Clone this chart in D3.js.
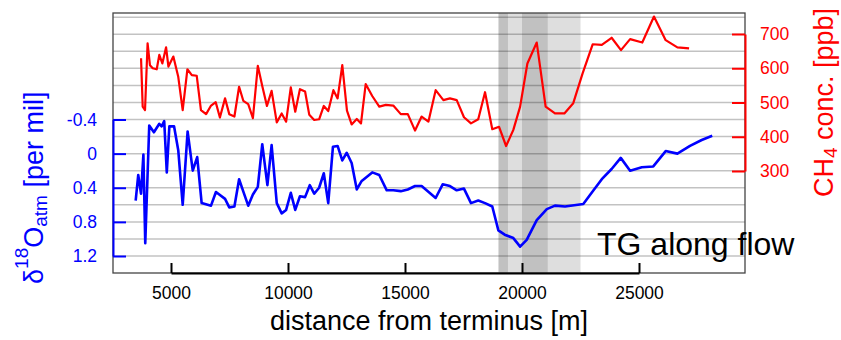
<!DOCTYPE html>
<html>
<head>
<meta charset="utf-8">
<script src="https://cdnjs.cloudflare.com/ajax/libs/d3/7.8.5/d3.min.js"></script>
<style>
  body { margin: 0; background: #fff; }
  svg { font-family: "Liberation Sans", Arial, sans-serif; }
</style>
</head>
<body>
<svg id="chart" width="841" height="340"></svg>
<script>
// CH4 record along flow
var ch4Dist = [3720,3790,3890,4000,4100,4220,4390,4500,4630,4790,4890,5100,5310,5500,5700,5890,6100,6280,6500,6700,
  6910,7090,7310,7490,7710,7910,8090,8300,8500,8710,8900,9100,9300,9520,9730,9920,10120,10310,10510,10730,
  10910,11120,11330,11530,11720,11940,12120,12320,12520,12720,12940,13120,13320,13600,13900,14180,14500,14820,15120,15430,
  15710,16000,16310,16640,16920,17210,17520,17820,18130,18420,18730,19020,19320,19630,19920,20230,20630,21010,21410,21810,
  22190,22590,23020,23410,23830,24230,24620,25140,25640,26140,26640,27140];
var ch4Vals = [629,488,478,673,609,600,597,639,614,661,605,634,575,478,597,580,578,478,466,490,
  501,456,512,466,459,546,505,495,454,607,548,490,534,442,468,444,544,473,539,532,
  464,449,451,490,475,536,512,609,476,436,452,439,554,519,488,493,491,466,466,418,
  459,444,536,507,512,507,457,439,451,530,422,429,373,420,488,614,675,488,468,468,
  498,585,670,668,689,653,685,675,751,682,661,658];

// d18O atm record along flow
var d18Dist = [3490,3600,3720,3820,3900,4070,4270,4500,4600,4710,4820,4930,5130,5310,5500,5710,5930,6120,6310,6710,
  6920,7310,7490,7710,7910,8110,8300,8500,8710,8900,9120,9300,9520,9730,9920,10120,10310,10510,10730,10930,
  11120,11330,11530,11720,11920,12120,12320,12510,12720,12940,13150,13600,13900,14220,14500,14820,15120,15430,15710,16310,
  16610,16920,17210,17520,17820,18130,18420,18730,18990,19260,19630,19920,20200,20630,21060,21410,21840,22620,23000,23410,
  23830,24220,24620,25120,25610,26140,26640,27180,27680,28130];
var d18Vals = [0.55,0.25,0.47,0.01,1.05,-0.33,-0.25,-0.35,-0.32,-0.38,0.22,-0.32,-0.32,-0.04,0.60,-0.26,0.20,0.04,0.58,0.61,
  0.45,0.53,0.63,0.62,0.30,0.46,0.61,0.48,0.39,-0.11,0.37,-0.10,0.58,0.70,0.66,0.46,0.66,0.50,0.51,0.37,
  0.47,0.40,0.23,0.58,-0.08,-0.09,0.08,-0.01,0.11,0.42,0.32,0.22,0.25,0.43,0.43,0.44,0.42,0.38,0.38,0.52,
  0.36,0.38,0.43,0.41,0.58,0.55,0.58,0.62,0.90,0.95,0.99,1.09,1.01,0.78,0.65,0.61,0.62,0.59,0.45,0.30,
  0.18,0.05,0.20,0.16,0.15,-0.03,0.00,-0.09,-0.16,-0.21];

var xTicks = [5000, 10000, 15000, 20000, 25000];
var d18Ticks = [-0.4, 0, 0.4, 0.8, 1.2];
var d18TickLabels = ["-0.4", "0", "0.4", "0.8", "1.2"];
var ch4Ticks = [300, 400, 500, 600, 700];
var gridVals = [-1.6,-1.4,-1.2,-1.0,-0.8,-0.6,-0.4,-0.2,0,0.2,0.4,0.6,0.8,1.0,1.2];
var lightBands = [[19000, 22500]];
var darkBands = [[19000, 19400], [20000, 21100]];

var svg = d3.select("#chart");
var plotLeft = 113, plotRight = 745, plotTop = 13, plotBottom = 273;

// x: 5000 -> 171px, 25000 -> 639px
var x = d3.scaleLinear().domain([5000, 25000]).range([171, 639]);
var yL = d3.scaleLinear().domain([-0.4, 1.2]).range([119.5, 256]);
var yR = d3.scaleLinear().domain([300, 700]).range([171, 34]);

// shaded bands
svg.append("g").selectAll("rect")
  .data(lightBands)
  .enter().append("rect")
    .attr("x", function(d) { return x(d[0]); })
    .attr("width", function(d) { return x(d[1]) - x(d[0]); })
    .attr("y", plotTop)
    .attr("height", plotBottom - plotTop)
    .attr("fill", "#dedede");

svg.append("g").selectAll("rect")
  .data(darkBands)
  .enter().append("rect")
    .attr("x", function(d) { return x(d[0]); })
    .attr("width", function(d) { return x(d[1]) - x(d[0]); })
    .attr("y", plotTop)
    .attr("height", plotBottom - plotTop)
    .attr("fill", "#c1c1c1");

// horizontal grid
svg.append("g").selectAll("line")
  .data(gridVals)
  .enter().append("line")
    .attr("x1", plotLeft).attr("x2", plotRight)
    .attr("y1", function(d) { return yL(d); })
    .attr("y2", function(d) { return yL(d); })
    .attr("stroke", "#000")
    .attr("stroke-opacity", 0.24)
    .attr("stroke-width", 1.5);

// lines
var ch4Line = d3.line()
  .x(function(d, i) { return x(ch4Dist[i]); })
  .y(function(d) { return yR(d); });

var d18Line = d3.line()
  .x(function(d, i) { return x(d18Dist[i]); })
  .y(function(d) { return yL(d); });

svg.append("path")
  .datum(ch4Vals)
  .attr("d", ch4Line)
  .attr("fill", "none")
  .attr("stroke", "#ff0000")
  .attr("stroke-width", 2.2)
  .attr("stroke-linejoin", "round");

svg.append("path")
  .datum(d18Vals)
  .attr("d", d18Line)
  .attr("fill", "none")
  .attr("stroke", "#0000ff")
  .attr("stroke-width", 2.6)
  .attr("stroke-linejoin", "round");

// frame
svg.append("rect")
  .attr("x", plotLeft).attr("y", plotTop)
  .attr("width", plotRight - plotLeft).attr("height", plotBottom - plotTop)
  .attr("fill", "none")
  .attr("stroke", "#444")
  .attr("stroke-width", 1.3);

// axes
var gx = svg.append("g")
  .attr("transform", "translate(0," + plotBottom + ")")
  .call(d3.axisBottom(x).tickValues(xTicks).tickFormat(d3.format("d"))
    .tickSize(-10).tickSizeOuter(0).tickPadding(14));

var gl = svg.append("g")
  .attr("transform", "translate(" + plotLeft + ",0)")
  .call(d3.axisLeft(yL).tickValues(d18Ticks)
    .tickFormat(function(d, i) { return d18TickLabels[i]; })
    .tickSize(-13).tickSizeOuter(0).tickPadding(16));

var gr = svg.append("g")
  .attr("transform", "translate(" + plotRight + ",0)")
  .call(d3.axisRight(yR).tickValues(ch4Ticks)
    .tickSize(-13).tickSizeOuter(0).tickPadding(15));

function styleAxis(g, color) {
  g.attr("font-family", null).attr("font-size", null);
  g.select(".domain").attr("stroke", color).attr("stroke-width", 2);
  g.selectAll(".tick line").attr("stroke", color).attr("stroke-width", 2);
  g.selectAll(".tick text").attr("fill", color).style("font-size", "17.5px");
}
styleAxis(gx, "#000");
styleAxis(gl, "#0000ff");
styleAxis(gr, "#ff0000");

// axis titles
svg.append("text")
  .attr("x", (plotLeft + plotRight) / 2)
  .attr("y", 330)
  .attr("text-anchor", "middle")
  .style("font-size", "27px")
  .text("distance from terminus [m]");

var lt = svg.append("text")
  .attr("transform", "translate(43," + (yL(-0.4) + yL(1.2)) / 2 + ") rotate(-90)")
  .attr("text-anchor", "middle")
  .attr("fill", "#0000ff")
  .style("font-size", "27px");
lt.append("tspan").text("δ");
lt.append("tspan").attr("dy", -15).style("font-size", "19px").text("18");
lt.append("tspan").attr("dy", 15).text("O");
lt.append("tspan").attr("dy", 4).style("font-size", "19px").text("atm");
lt.append("tspan").attr("dy", -4).text(" [per mil]");

var rt = svg.append("text")
  .attr("transform", "translate(833," + (yR(300) + yR(700)) / 2 + ") rotate(-90)")
  .attr("text-anchor", "middle")
  .attr("fill", "#ff0000")
  .style("font-size", "27px");
rt.append("tspan").text("CH");
rt.append("tspan").attr("dy", 4).style("font-size", "19px").text("4");
rt.append("tspan").attr("dy", -4).text(" conc. [ppb]");

svg.append("text")
  .attr("x", 597)
  .attr("y", 255)
  .style("font-size", "32px")
  .text("TG along flow");
</script>
</body>
</html>
